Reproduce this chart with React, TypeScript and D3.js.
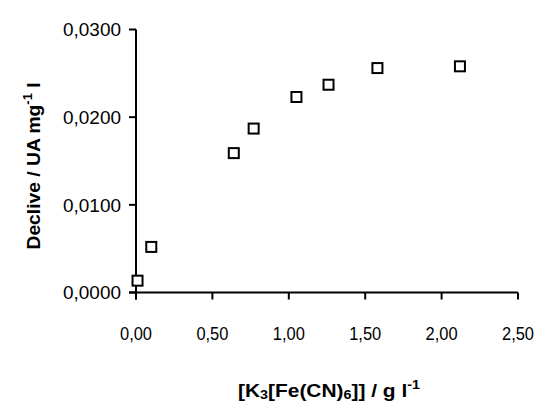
import React from "react";
import * as d3 from "d3";

const xValues = [0.01, 0.1, 0.64, 0.77, 1.05, 1.26, 1.58, 2.12];
const yValues = [0.00135, 0.0052, 0.0159, 0.0187, 0.0223, 0.0237, 0.0256, 0.0258];
const xTicks = [0, 0.5, 1.0, 1.5, 2.0, 2.5];
const yTicks = [0, 0.01, 0.02, 0.03];

const FONT = "'Liberation Sans', Arial, sans-serif";

export default function App() {
  const W = 538, H = 405;
  const x = d3.scaleLinear().domain([0, 2.5]).range([136, 518]);
  const y = d3.scaleLinear().domain([0, 0.03]).range([292.5, 29.5]);
  const fmtX = (v: number) => v.toFixed(2).replace(".", ",");
  const fmtY = (v: number) => v.toFixed(4).replace(".", ",");
  const s = 10;
  return (
    <svg width={W} height={H} style={{ position: "absolute", left: 0, top: 0, background: "#fff" }}>
      <g stroke="#000" strokeWidth={2} fill="none">
        <line x1={x(0)} x2={x(0)} y1={y(0.03)} y2={y(0) + 7} />
        <line x1={x(0) - 7} x2={x(2.5)} y1={y(0)} y2={y(0)} />
        {yTicks.map((t) => (
          <line key={"yt" + t} x1={x(0) - 7} x2={x(0)} y1={y(t)} y2={y(t)} />
        ))}
        {xTicks.map((t) => (
          <line key={"xt" + t} x1={x(t)} x2={x(t)} y1={y(0)} y2={y(0) + 7} />
        ))}
      </g>
      <g fontFamily={FONT} fill="#000">
        {yTicks.map((t) => (
          <text key={"yl" + t} x={121} y={y(t) + 6.7} fontSize={18.5} textAnchor="end"
            textLength={58} lengthAdjust="spacingAndGlyphs">{fmtY(t)}</text>
        ))}
        {xTicks.map((t) => (
          <text key={"xl" + t} x={x(t)} y={339.5} fontSize={19} textAnchor="middle"
            textLength={32} lengthAdjust="spacingAndGlyphs">{fmtX(t)}</text>
        ))}
      </g>
      <g stroke="#000" strokeWidth={2} fill="#fff">
        {xValues.map((xv, i) => (
          <rect key={"p" + i} x={x(xv) - s / 2} y={y(yValues[i]) - s / 2} width={s} height={s} />
        ))}
      </g>
      <text
        fontFamily={FONT}
        fontSize={18}
        fontWeight="bold"
        textAnchor="middle"
        textLength={167}
        lengthAdjust="spacingAndGlyphs"
        transform={`translate(40,166) rotate(-90)`}
      >
        Declive / UA mg<tspan dy="-8" fontSize={12}>-1</tspan><tspan dy="8"> l</tspan>
      </text>
      <text fontFamily={FONT} fontSize={19} fontWeight="bold" textAnchor="middle" x={329} y={397}
        textLength={182} lengthAdjust="spacingAndGlyphs">
        [K<tspan dy="2" fontSize={13}>3</tspan><tspan dy="-2">[Fe(CN)</tspan><tspan dy="2" fontSize={13}>6</tspan><tspan dy="-2">]] / g l</tspan><tspan dy="-8" fontSize={13}>-1</tspan>
      </text>
    </svg>
  );
}
